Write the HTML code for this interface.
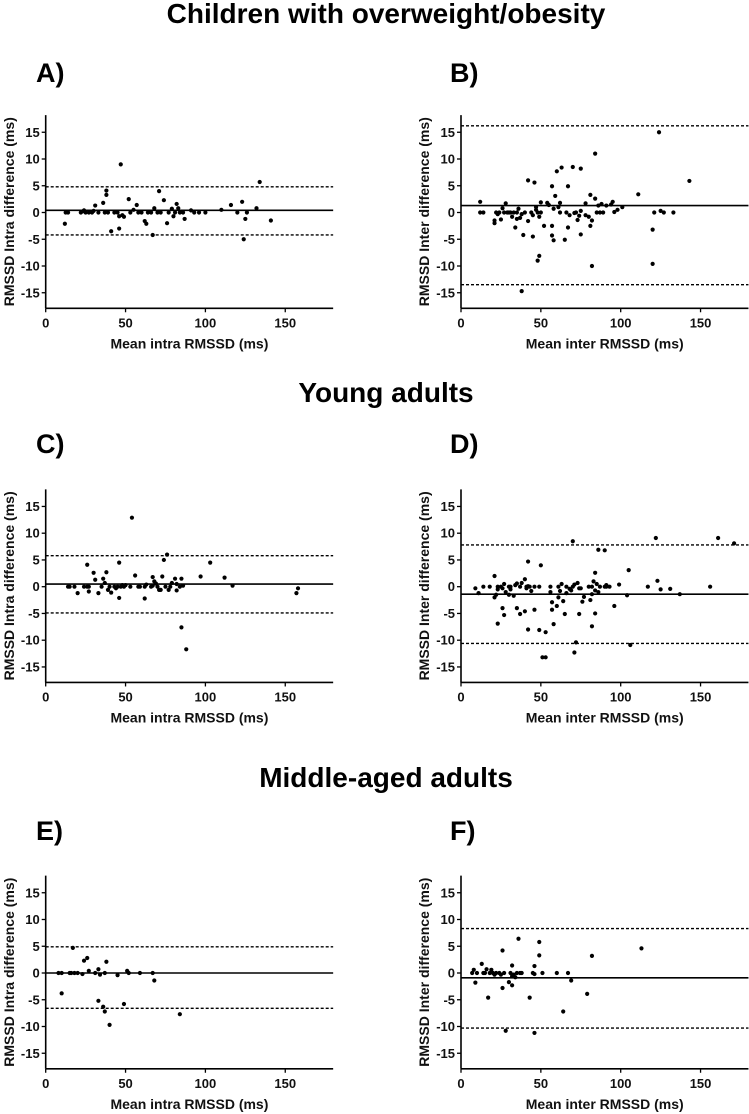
<!DOCTYPE html>
<html><head><meta charset="utf-8">
<style>
html,body{margin:0;padding:0;background:#fff;}
svg{display:block;font-family:"Liberation Sans",Arial,sans-serif;}
.tick{font-size:13px;font-weight:bold;fill:#111;}
.atitle{font-size:14px;font-weight:bold;fill:#111;}
.sect{font-size:28px;font-weight:bold;fill:#000;}
.plet{font-size:27px;font-weight:bold;fill:#000;}
</style></head>
<body>
<svg id="fig" width="749" height="1114" viewBox="0 0 749 1114">
<text class="sect" x="386" y="23" text-anchor="middle">Children with overweight/obesity</text>
<text class="sect" x="386" y="402" text-anchor="middle">Young adults</text>
<text class="sect" x="386" y="787" text-anchor="middle">Middle-aged adults</text>
</svg>
<script>
// Panel data (x = mean RMSSD ms, y = difference ms)
const xTicks = [0, 50, 100, 150];
const yTicks = [15, 10, 5, 0, -5, -10, -15];
const panelLetters = ["A)", "B)", "C)", "D)", "E)", "F)"];
const panelYTitles = ["RMSSD Intra difference (ms)", "RMSSD Inter difference (ms)", "RMSSD Intra difference (ms)", "RMSSD Inter difference (ms)", "RMSSD Intra difference (ms)", "RMSSD Inter difference (ms)"];
const panelXTitles = ["Mean intra RMSSD (ms)", "Mean inter RMSSD (ms)", "Mean intra RMSSD (ms)", "Mean inter RMSSD (ms)", "Mean intra RMSSD (ms)", "Mean inter RMSSD (ms)"];
const meanBias = [0.4, 1.3, 0.5, -1.4, 0.0, -0.9];
const upperLoA = [4.8, 16.2, 5.8, 7.8, 4.9, 8.3];
const lowerLoA = [-4.2, -13.5, -4.9, -10.6, -6.6, -10.3];

const aPts = [[12,-2.1],[12.5,0],[14,0],[22,0],[23,0.2],[24,0.4],[25,0],[27,0],[29,0],[31,1.3],[30,0.3],[33,0],[36,1.8],[37,0],[38,3.3],[38,4.1],[39,0],[41,-3.5],[43,0],[45,0],[46,-3],[46,-0.7],[47,9],[48,-0.5],[49,-0.8],[52,2.5],[53,0],[55,0.5],[57,1.4],[58,0],[60,0],[62,-1.6],[63,-2.1],[64,0],[66,0],[67,-4.2],[68,0.8],[70,0],[71,4],[72,0],[74,2.3],[76,-2],[77,0],[79,0.7],[80,-0.7],[81,0],[82,1.6],[83,0.8],[84,0],[86,0],[87,-1.2],[91,0.4],[93,0],[96,0],[100,0],[110,0.5],[116,1.4],[120,0],[123,2],[124,-5],[125,-1.2],[126,0],[132,0.8],[134,5.7],[141,-1.5]];
const bPts = [[12,2],[12,0],[14,0],[21,-2],[21,-1.5],[22,0],[23,-0.3],[24,0],[25,-1.3],[26,0.8],[27,0],[28,1.7],[29,0],[30,0],[31,0],[32,-0.8],[33,0],[34,-2.8],[35,-1.2],[35,0],[36,0.7],[37,-1],[38,-0.3],[38,-14.7],[39,-4.2],[40,0],[42,-1.6],[42,6],[44,0],[45,-4.5],[45,-0.5],[46,5.6],[47,0.5],[47,1],[48,-9],[48,0],[49,-0.8],[49,-8.1],[50,1.9],[50,0],[52,-2.5],[54,1.8],[55,1.4],[57,-2.5],[57,-4.3],[57,4.9],[58,-5.2],[58,0.7],[59,3.1],[60,7.7],[61,1],[62,1.8],[62,0],[63,8.4],[65,-5.1],[66,0],[67,4.9],[67,-2.8],[68,-0.5],[70,8.5],[71,-0.1],[72,0],[73,-1.4],[74,-0.6],[75,0.3],[75,-4.1],[75,8.2],[78,1.7],[78,-0.5],[80,-0.8],[81,3.3],[81,-2.5],[82,-1.5],[82,-10],[84,2.6],[84,11],[85,0],[86,1.3],[87,0],[88,1.6],[89,0],[91,1.3],[94,1.5],[95,2],[96,0.1],[98,0.5],[101,1],[111,3.4],[120,-3.2],[120,-9.6],[121,0],[124,15],[125,0.3],[127,0],[133,0],[143,5.9]];
const cPts = [[14,0],[15,0],[18,0],[20,-1.2],[24,0],[26,4.1],[26,0],[27,-0.9],[27,0],[30,2.6],[31,1.3],[33,-1.2],[35,0],[36,1.5],[37,0.7],[38,2.7],[39,-0.6],[40,0],[41,-1.1],[43,0],[44,-0.3],[45,0],[46,4.5],[46,-2.1],[47,0],[48,0.3],[49,0],[50,0.3],[53,0],[54,12.9],[56,2.1],[58,0],[59,0],[62,0],[62,-2.2],[63,0.4],[66,0],[67,1.8],[67,0.2],[68,1],[69,0.6],[70,0],[71,-0.6],[72,-0.6],[73,1.9],[74,5],[75,0],[76,6],[77,-0.6],[78,0],[79,0.7],[81,1.5],[82,0.5],[82,-0.7],[84,0],[85,1.5],[85,-7.6],[86,0.2],[88,-11.7],[97,1.9],[103,4.5],[112,1.7],[117,0.2],[157,-1.2],[158,-0.3]];
const dPts = [[9,-0.3],[11,-1.2],[14,0],[18,0],[21,2],[21,-2],[22,-1.5],[23,0],[23,-0.5],[23,-6.9],[25,0],[26,-0.3],[26,-4],[27,0.5],[27,-5.3],[28,-1],[30,0],[30,-1.5],[31,-0.5],[31,0],[33,-1.7],[35,-4],[34,0.3],[35,0.6],[37,-5.1],[37,0],[38,0.7],[40,-4.6],[40,1.4],[42,-8],[41,0],[41,-0.3],[42,4.7],[42,0.1],[43,0],[44,-0.8],[46,-4.3],[46,0],[49,-8.1],[50,4],[49,0],[51,-13.2],[53,-8.5],[53,-13.2],[56,0],[56,-1],[57,-4.3],[57,-2.9],[58,-7],[60,-3.6],[61,0],[61,-2],[62,-0.8],[63,0.5],[64,-2.7],[65,-5.1],[66,0],[66,-1.2],[68,-0.4],[69,-0.7],[70,8.5],[70,0],[71,0.4],[71,-12.3],[72,-10.4],[73,0.7],[74,-0.3],[75,-0.3],[77,-1.9],[74,-5.1],[76,-2.8],[80,0],[82,-1.4],[82,0],[83,1],[84,-0.7],[81,-2.5],[85,0.5],[82,-7.4],[86,-1],[87,0],[84,-5],[84,2.6],[90,0],[86,6.9],[91,0.3],[90,6.8],[91,0],[93,0],[96,-3.6],[99,0.4],[104,-1.6],[105,3.1],[106,-10.9],[117,0],[122,9.1],[123,1.1],[125,-0.5],[131,-0.4],[137,-1.4],[156,0],[161,9.1],[171,8.1]];
const ePts = [[8,0],[10,-3.8],[10,0],[15,0],[16,0],[17,4.7],[18,0],[20,0],[23,-0.2],[24,2.3],[26,2.8],[27,0.4],[31,0],[33,0.7],[33,-5.2],[34,-0.3],[36,-6.3],[37,0],[37,-7.2],[38,2.1],[40,-9.7],[45,-0.4],[49,-5.8],[51,0.4],[52,0],[59,0],[67,0],[68,-1.4],[84,-7.7]];
const fPts = [[7,0],[8,0.6],[9,-1.8],[10,0],[13,1.7],[14,0],[15,0],[16,0.7],[17,-4.6],[18,0],[19,0.6],[20,0],[21,-0.3],[22,0],[24,0],[25,-0.3],[26,-2.8],[26,4.2],[27,0],[28,-10.8],[30,-1.7],[31,0],[32,1.4],[32,-0.6],[32,-2.3],[33,-0.3],[34,-0.8],[35,0],[36,6.4],[37,0],[38,0],[43,-4.6],[45,0],[46,-0.2],[46,1.3],[46,-11.2],[49,5.8],[49,3.3],[51,0],[60,0],[64,-7.2],[67,0],[69,-1.4],[79,-3.9],[82,3.2],[113,4.6]];
const panelPoints = [aPts, bPts, cPts, dPts, ePts, fPts];

const NS = "http://www.w3.org/2000/svg";
const svg = document.getElementById("fig");
const rowOff = [0, 374.2, 760.5];
const letterY = [82, 453, 840];
function mk(tag, attrs, parent) {
  const e = document.createElementNS(NS, tag);
  for (const k in attrs) e.setAttribute(k, attrs[k]);
  (parent || svg).appendChild(e);
  return e;
}
for (let p = 0; p < 6; p++) {
  const col = p % 2, row = Math.floor(p / 2);
  const x0 = col === 0 ? 45.7 : 461;
  const off = rowOff[row];
  const xs = v => x0 + v * 1.597;
  const ys = v => 212.5 + off - v * 5.35;
  const g = mk("g", {});
  
  
  const let_ = mk("text", {x: col === 0 ? 36 : 450, y: letterY[row], class: "plet"}, g);
  let_.textContent = panelLetters[p];
  
  
  const top = ys(18.2), bot = ys(-17.9), right = xs(180);
  // axes
  const yax = mk("line", {x1: x0, y1: top, x2: x0, y2: bot, stroke: "#000", "stroke-width": 1.6}, g);
  
  
  const xax = mk("line", {x1: x0, y1: bot, x2: right, y2: bot, stroke: "#000", "stroke-width": 1.6}, g);
  
  
  for (const t of yTicks) {
    mk("line", {x1: x0 - 4, y1: ys(t), x2: x0, y2: ys(t), stroke: "#000", "stroke-width": 1.3}, g);
    const tl = mk("text", {x: x0 - 6, y: ys(t) + 4.5, class: "tick", "text-anchor": "end"}, g);
    tl.textContent = t;
    
    
  }
  for (const t of xTicks) {
    mk("line", {x1: xs(t), y1: bot, x2: xs(t), y2: bot + 4, stroke: "#000", "stroke-width": 1.3}, g);
    const tl = mk("text", {x: xs(t), y: bot + 19, class: "tick", "text-anchor": "middle"}, g);
    tl.textContent = t;
    
    
  }
  const xt = mk("text", {x: (x0 + right) / 2, y: bot + 40, class: "atitle", "text-anchor": "middle"}, g);
  xt.textContent = panelXTitles[p];
  
  
  const yc = (top + bot) / 2, yx = col === 0 ? 14 : 429;
  const yt = mk("text", {x: yx, y: yc, class: "atitle", "text-anchor": "middle", transform: "rotate(-90 " + yx + " " + yc + ")"}, g);
  yt.textContent = panelYTitles[p];
  
  
  // reference lines
  const ml = mk("line", {x1: x0, y1: ys(meanBias[p]), x2: right, y2: ys(meanBias[p]), stroke: "#000", "stroke-width": 1.6}, g);
  
  
  const ul = mk("line", {x1: x0, y1: ys(upperLoA[p]), x2: right, y2: ys(upperLoA[p]), stroke: "#000", "stroke-width": 1.4, "stroke-dasharray": "3,2"}, g);
  
  
  const ll = mk("line", {x1: x0, y1: ys(lowerLoA[p]), x2: right, y2: ys(lowerLoA[p]), stroke: "#000", "stroke-width": 1.4, "stroke-dasharray": "3,2"}, g);
  
  
  for (const pt of panelPoints[p]) {
    const c = mk("circle", {cx: xs(pt[0]), cy: ys(pt[1]), r: 2.1, fill: "#000"}, g);
    
    
  }
}
</script>
</body></html>
